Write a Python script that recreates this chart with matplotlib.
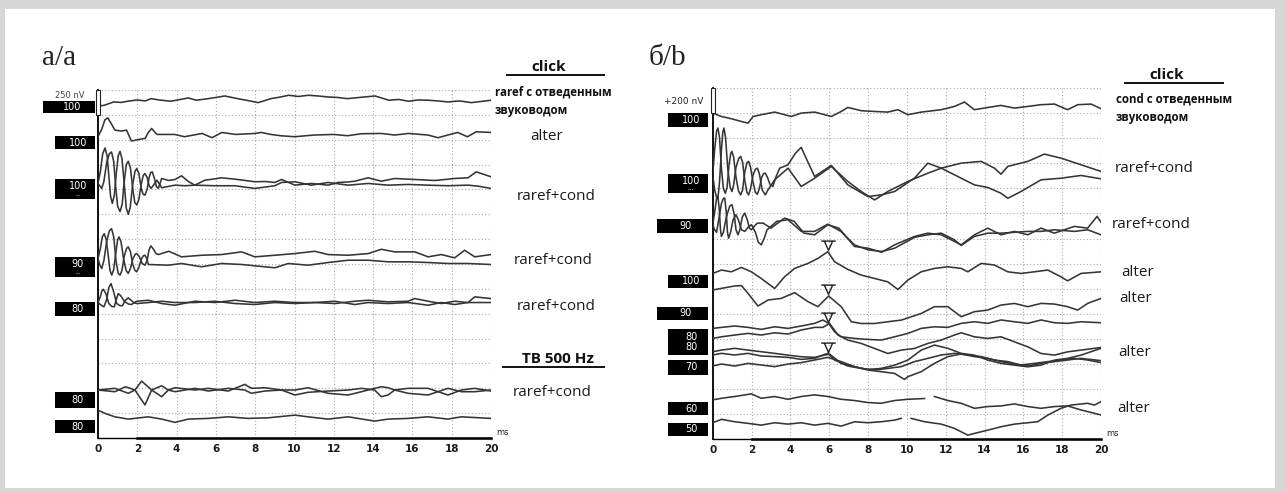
import numpy as np
import matplotlib
matplotlib.use("Agg")
import matplotlib.pyplot as plt
from matplotlib.patches import Rectangle
from matplotlib.path import Path
from matplotlib.transforms import offset_copy

nan = np.nan

# ---------------- panel a/a (click + TB 500 Hz), amplitudes in nV, 250 nV per division
a1_t = [0, 0.3, 0.8, 1.2, 1.5, 2.0, 2.4, 2.7, 3.1, 3.7, 4.2, 4.6, 5.0, 5.5, 6.0, 6.45, 7.1, 7.6, 8.15, 8.8,
        9.3, 9.7, 10.2, 10.7, 11.2, 11.7, 12.2, 12.7, 13.3, 14.1, 14.8, 15.3, 15.8, 16.3, 16.8, 17.3, 17.8,
        18.4, 19.0, 19.5, 20]
a1_nv = [0, 5, 40, 35, 47, 60, 50, 73, 60, 47, 65, 80, 57, 70, 85, 100, 73, 55, 33, 73,
         90, 107, 95, 107, 100, 90, 85, 73, 85, 100, 57, 65, 47, 60, 57, 50, 40,
         50, 33, 45, 57]

a2_t = [0, 0.2, 0.35, 0.5, 0.65, 0.86, 1.2, 1.45, 1.7, 2.2, 2.4, 2.55, 2.73, 3.0,
        3.9, 4.4, 5.3, 5.8, 6.3, 7.0, 8.0, 8.3, 8.8, 9.3, 10.0, 11.0, 12.0, 12.7, 13.4, 14.4, 15.1, 15.8,
        16.8, 17.3, 17.8, 18.3, 18.8, 19.25, 20]
a2_nv = [0, 80, 170, 190, 140, 67, 57, 67, -43, -23, -17, 40, 83, 23,
         23, 0, 33, -10, 43, 23, 33, 43, 23, 10, 0, 17, 23, 10, 30, 33, 17, 33,
         17, -10, 17, 43, 0, 50, 43]

a3a_t = [0, 0.12, 0.24, 0.36, 0.47, 0.55, 0.64, 0.73, 0.83, 0.93, 1.03, 1.12, 1.22, 1.33, 1.44, 1.54, 1.64,
         1.76, 1.88, 1.97, 2.08, 2.2, 2.3, 2.39, 2.5, 2.6, 2.68, 2.76, 2.86, 2.97, 3.07,
         3.24, 3.6, 3.92, 4.25, 4.6, 4.93, 5.44, 5.9, 6.29, 6.97, 7.5, 7.98, 8.5, 9.0, 9.34, 10.02, 10.86,
         11.71, 12.22, 12.73, 13.07, 13.75, 14.42, 15.1, 15.78, 16.12, 16.8, 17.14, 17.81, 18.15, 18.83,
         19.25, 20]
a3a_nv = [0, 120, 300, 357, 270, 80, -130, -200, -120, 100, 280, 323, 250, 10, -250, -310, -240,
          -20, 120, 150, 100, -50, -110, -117, -60, 60, 110, 117, 60, -30, -50,
          50, 30, 40, 77, 20, -17, 33, 45, 57, 43, 30, 17, 20, 10, 40, -17, 0,
          -17, 10, 15, 23, 57, 23, 50, 43, 40, 33, 30, 43, 50, 57,
          117, 67]
a3b_t = [0, 0.19, 0.3, 0.45, 0.58, 0.69, 0.8, 0.9, 1.0, 1.12, 1.23, 1.33, 1.44, 1.54, 1.65, 1.76, 1.87,
         1.97, 2.08, 2.2, 2.3, 2.39, 2.5, 2.6, 2.7, 2.85, 3.0,
         3.24, 3.92, 4.42, 4.93, 5.95, 6.97, 7.98, 9.0, 9.34, 10.02, 10.86, 11.71, 12.73, 13.75, 14.76,
         15.78, 16.8, 17.81, 18.83, 19.34, 20]
a3b_nv = [0, -50, 20, 220, 300, 317, 220, -30, -230, -283, -210, 10, 190, 223, 160, -40, -190,
          -217, -160, -10, 80, 100, 60, -20, -50, -10, 33,
          -43, -17, -23, -17, -23, -23, -50, -23, 10, 17, -17, 10, -17, 0, -17,
          -10, -17, -23, -17, -27, -50]

a4a_t = [0, 0.12, 0.22, 0.32, 0.42, 0.52, 0.61, 0.7, 0.8, 0.9, 1.0, 1.07, 1.17, 1.3, 1.43, 1.54, 1.65,
         1.78, 1.9, 1.97, 2.1, 2.25, 2.39, 2.5, 2.6, 2.69, 2.8, 2.95, 3.07,
         3.6, 4.25, 5.27, 6.29, 7.31, 7.98, 9.0, 10.02, 11.03, 11.71, 12.73, 13.75, 14.42, 15.1, 16.12,
         16.8, 17.47, 18.15, 18.66, 19.17, 20]
a4a_nv = [0, 100, 220, 250, 190, 30, -120, -167, -110, 50, 190, 217, 170, 0, -120, -150, -100,
          0, 45, 50, 20, -50, -67, -20, 90, 127, 100, 50, 40,
          73, 17, 33, 40, 67, 17, 33, 50, 73, 40, 33, 50, 93, 67, 67,
          17, 40, 7, 83, 17, 40]
a4b_t = [0, 0.1, 0.19, 0.3, 0.45, 0.58, 0.69, 0.8, 0.92, 1.03, 1.12, 1.22, 1.33, 1.45, 1.54, 1.65, 1.77,
         1.88, 1.97, 2.08, 2.22, 2.32, 2.39, 2.48, 2.56,
         3.58, 4.25, 5.27, 6.29, 7.31, 7.98, 9.0, 9.68, 10.69, 11.71, 12.73, 13.75, 14.76, 15.78, 16.8,
         17.81, 18.83, 20]
a4b_nv = [0, -70, -100, -20, 180, 280, 300, 220, -30, -150, -167, -120, 20, 100, 117, 70, -60,
          -120, -133, -90, 0, 30, 33, 0, -60,
          -67, -50, -83, -50, -60, -73, -93, -50, -67, -40, -17, -17, -33, -33, -40,
          -50, -50, -60]

a5a_t = [0, 0.12, 0.2, 0.27, 0.4, 0.55, 0.7, 0.83, 0.93, 1.03, 1.15, 1.35, 1.55, 1.71, 1.85, 1.97,
         2.56, 3.24, 3.92, 4.93, 5.95, 6.97, 7.98, 9.0, 10.02, 11.03, 12.05, 13.07, 13.75, 14.76, 15.78,
         16.12, 16.8, 17.47, 18.15, 18.83, 19.17, 20]
a5a_nv = [0, 60, 120, 133, 90, -10, -40, -43, 30, 90, 70, 10, -15, -20, 0, 13,
          23, -10, -27, 13, 0, 23, 0, 13, 0, 0, -10, 13, 23, 7, 13,
          40, 13, -10, 13, 0, 57, 40]
a5b_t = [0, 0.15, 0.3, 0.44, 0.55, 0.66, 0.78, 0.95, 1.1, 1.24, 1.38, 1.54, 1.7, 1.85, 2.0,
         2.56, 3.24, 3.92, 4.93, 5.95, 6.97, 7.98, 9.0, 10.02, 11.03, 12.05, 13.07, 13.75, 14.76, 15.78,
         16.8, 17.47, 18.15, 18.83, 20]
a5b_nv = [0, -25, -43, 30, 150, 190, 120, -10, -30, -33, 20, 47, 20, -5, -10,
          0, 13, 0, 0, 13, -10, -20, 0, -10, 0, 13, -20, 0, -10, 0,
          -27, 0, -20, 0, 0]

a6a_t = [0, 0.86, 1.54, 1.88, 2.22, 2.73, 3.24, 3.58, 3.92, 4.93, 5.61, 6.63, 7.47, 7.81, 8.49, 9.34, 10.02,
         10.69, 11.71, 12.73, 13.41, 14.08, 14.42, 14.76, 15.1, 15.78, 16.8, 17.81, 18.49, 19.17, 20]
a6a_nv = [0, 17, -33, 0, 90, 0, -67, 0, 23, 0, 17, -10, 57, 17, 23, 0, -50,
          -23, -10, 0, 17, 0, -67, -50, 0, 17, 17, -50, 0, 17, -10]
a6b_t = [0, 0.86, 1.4, 1.88, 2.39, 2.73, 3.24, 3.58, 3.92, 4.93, 5.61, 6.63, 7.47, 7.81, 8.49, 9.34, 10.02,
         10.69, 11.71, 12.73, 13.41, 14.08, 14.42, 14.76, 15.1, 15.78, 16.8, 17.81, 18.49, 19.17, 20]
a6b_nv = [0, -17, 33, 0, -150, 0, 43, 0, -17, 17, -10, 17, 0, -33, -10, 0, 0,
          23, -33, -50, -17, 17, 33, 23, 0, -33, -50, 17, -17, -17, 0]

a7_t = [0, 0.36, 0.86, 1.54, 2.56, 3.24, 3.92, 4.59, 5.61, 6.63, 7.64, 8.66, 10.02, 10.69, 11.71, 12.73,
        14.08, 14.76, 15.78, 16.8, 17.81, 18.49, 20]
a7_nv = [0, -33, -67, -90, -67, -90, -123, -90, -83, -67, -83, -77, -50, -67, -90, -67,
         -110, -90, -83, -67, -90, -67, -83]

# baseline of each trace, in grid divisions above the time axis
traces_a = [
    (a1_t, a1_nv, 13.36), (a2_t, a2_nv, 12.12),
    (a3a_t, a3a_nv, 10.24), (a3b_t, a3b_nv, 10.24),
    (a4a_t, a4a_nv, 7.22), (a4b_t, a4b_nv, 7.22),
    (a5a_t, a5a_nv, 5.45), (a5b_t, a5b_nv, 5.45),
    (a6a_t, a6a_nv, 1.93), (a6b_t, a6b_nv, 1.93),
    (a7_t, a7_nv, 1.12),
]

# ---------------- panel б/b (click), amplitudes in nV, 200 nV per division
b1_t = [0, 0.45, 0.96, 1.48, 1.82, 2.08, 2.5, 3.19, 4.05, 4.56, 5.25, 6.11, 6.62, 6.96, 7.65, 8.34, 9.02,
        9.54, 10.05, 10.74, 11.77, 12.45, 12.97, 13.48, 14.17, 14.85, 15.54, 16.23, 16.91, 17.6, 18.28,
        18.8, 19.49, 20]
b1_nv = [0, -27, -45, -67, -80, -27, -13, 8, -27, 0, 8, -27, 13, 45, 19, 13, 8,
         27, -13, 8, 27, 53, 88, 27, 45, 61, 40, 53, 67, 72, 27,
         67, 72, 35]

b2a_t = [0, 0.1, 0.2, 0.27, 0.35, 0.45, 0.55, 0.65, 0.74, 0.84, 0.93, 0.99, 1.08, 1.2, 1.33, 1.44, 1.54,
         1.65, 1.76, 1.85, 1.95, 2.08, 2.2, 2.3, 2.4, 2.52, 2.62, 2.71, 2.82, 2.96, 3.1, 3.25, 3.45,
         3.88, 4.25, 4.56, 4.85, 5.25, 6.11, 6.96, 7.99, 8.68, 9.37, 10.39, 11.08, 11.77, 12.8, 13.48,
         14.17, 14.85, 15.2, 15.88, 16.91, 17.94, 18.97, 20]
b2a_nv = [0, 200, 350, 373, 300, 50, -110, -147, -100, 80, 170, 187, 140, -20, -130, -160, -120,
          20, 95, 107, 60, -60, -140, -155, -110, -20, 10, 13, -20, -80, -93, -20, 53,
          80, 170, 219, 120, -13, 75, -80, -173, -160, -133, -27, 93, 53, -27, -80,
          -101, -147, -187, -133, -40, -27, -5, -32]
b2b_t = [0, 0.1, 0.2, 0.27, 0.35, 0.45, 0.52, 0.58, 0.66, 0.78, 0.9, 0.99, 1.08, 1.2, 1.34, 1.44, 1.54,
         1.65, 1.76, 1.85, 1.95, 2.08, 2.2, 2.3, 2.4, 2.55, 2.71, 2.85, 3.19,
         3.88, 4.56, 5.25, 6.11, 6.96, 7.65, 8.34, 9.02, 10.05, 11.08, 11.77, 12.8, 13.83, 14.51, 14.85,
         15.2, 16.23, 17.08, 17.94, 18.97, 20]
b2b_nv = [0, -120, -180, -187, -60, 200, 340, 373, 300, 40, -100, -133, -80, 60, 130, 147, 100,
          -40, -140, -160, -110, 0, 45, 53, 10, -120, -160, -120, -40,
          53, -93, -27, 67, -53, -133, -200, -133, -53, 13, 53, 93, 107, 53, 5,
          67, 107, 165, 133, 80, 27]

b3a_t = [0, 0.12, 0.2, 0.27, 0.34, 0.4, 0.45, 0.55, 0.7, 0.88, 0.99, 1.1, 1.2, 1.3, 1.4, 1.52, 1.65,
         1.78, 1.9, 2.0, 2.15, 2.3,
         2.6, 3.0, 3.7, 4.2, 4.7, 5.25, 5.93, 6.5, 7.3, 8.0, 8.7, 9.37, 10.4, 11.08, 11.77, 12.45, 12.8,
         13.48, 14.17, 14.85, 15.54, 16.23, 16.91, 17.6, 18.63, 19.31, 19.8, 20]
b3a_nv = [0, 120, 210, 227, 120, -40, -93, -60, 60, 150, 160, 90, -40, -80, -40, 60, 93,
          40, -30, -40, -10, 13,
          13, -27, 53, 27, -67, -80, 0, -27, -173, -187, -219, -160, -93, -67, -80, -133, -160,
          -80, -27, -80, -53, -80, -27, -67, -13, -27, 67, 20]
b3b_t = [0, 0.1, 0.2, 0.32, 0.45, 0.55, 0.62, 0.7, 0.76, 0.82, 0.92, 1.05, 1.2, 1.32, 1.48, 1.65, 1.82,
         2.0, 2.2, 2.35, 2.5, 2.65, 2.8,
         3.3, 3.88, 4.56, 5.25, 5.93, 6.6, 7.3, 8.0, 8.7, 9.37, 10.4, 11.08, 11.77, 12.45, 12.8, 13.48,
         14.17, 14.85, 15.54, 16.23, 16.91, 17.6, 18.63, 19.31, 20]
b3b_nv = [0, -40, -60, 50, 170, 210, 213, 100, -60, -107, -60, 40, 80, 40, -40, -53, -20,
          0, -60, -140, -160, -110, -40,
          27, 40, -53, -53, 5, -53, -160, -200, -213, -187, -100, -80, -67, -120, -165, -93,
          -67, -67, -60, -53, -53, -40, -53, -40, -80]

b4_t = [0, 0.45, 0.96, 1.48, 1.99, 2.5, 3.19, 3.7, 4.22, 4.91, 5.42, 5.93, 6.28, 6.96, 7.65, 8.34, 9.02,
        9.54, 10.05, 10.74, 11.42, 12.11, 12.8, 13.14, 13.83, 14.51, 15.2, 15.88, 16.57, 17.26, 17.94,
        18.28, 18.97, 20]
b4_nv = [0, 27, 13, 48, 13, -40, -120, -27, 40, 80, 120, 173, 93, 32, -13, -40, -67,
         -128, -53, 13, 40, 53, 40, 13, 80, 67, 13, 0, 13, 27, -27,
         -59, 0, 13]

b5_t = [0, 0.45, 1.13, 1.48, 1.82, 2.33, 2.85, 3.53, 4.22, 4.91, 5.42, 5.97, 6.62, 7.14, 7.65, 8.34, 9.02,
        9.71, 10.74, 11.42, 12.11, 12.8, 13.48, 14.17, 14.85, 15.54, 16.23, 16.91, 17.6, 18.28, 18.8,
        19.31, 20]
b5_nv = [0, 13, 32, 35, -27, -128, -80, -67, -21, -93, -133, -48, -133, -253, -267, -267, -253,
         -240, -187, -133, -133, -213, -173, -160, -120, -107, -133, -107, -112, -133, -160,
         -107, -67]

b6_t = [0, 0.45, 1.13, 1.82, 2.5, 3.19, 3.88, 4.56, 5.25, 5.68, 5.97, 6.28, 6.62, 7.31, 7.99, 8.68, 9.37,
        10.05, 10.74, 11.42, 12.11, 12.8, 13.48, 14.17, 14.85, 15.54, 16.23, 16.91, 17.6, 18.28, 18.97, 20]
b6_nv = [0, 8, 19, 8, -8, 13, 0, 19, 40, 67, 40, -27, -67, -80, -88, -93, -67,
         -40, 0, 13, 8, 40, 53, 40, 67, 53, 40, 67, 45, 40, 53, 45]

b7_t = [0, 0.45, 1.13, 1.82, 2.5, 3.19, 3.88, 4.56, 5.25, 5.68, 6.02, 6.45, 6.96, 7.65, 8.34, 9.02, 9.71,
        10.39, 11.08, 11.77, 12.45, 12.8, 13.48, 14.17, 14.85, 15.54, 16.23, 16.91, 17.6, 18.28, 18.97, 20]
b7_nv = [0, 13, 27, 40, 27, 45, 35, 67, 88, 88, 120, 27, -13, -40, -80, -120, -93,
         -80, -40, -13, 27, 45, 13, 0, 13, -27, -67, -120, -133, -107, -93, -72]

c1_t = [0, 0.45, 1.13, 1.82, 2.5, 3.19, 3.88, 4.56, 5.25, 5.76, 6.02, 6.62, 7.31, 7.99, 8.68, 9.37, 10.05,
        10.74, 11.42, 12.11, 12.8, 13.48, 14.17, 14.85, 15.54, 16.23, 16.91, 17.6, 18.28, 18.97, 20]
c1_nv = [0, 13, 27, 13, 0, -13, -27, -40, -45, -27, -19, -93, -120, -141, -133, -107, -67,
         13, 53, 27, -13, -27, -67, -93, -107, -120, -107, -67, -53, -27, 27]

c2_t = [0, 0.45, 1.13, 1.82, 2.5, 3.19, 3.88, 4.56, 5.25, 5.68, 5.93, 6.28, 6.96, 7.65, 8.34, 9.02, 9.71,
        10.39, 11.08, 11.77, 12.45, 13.14, 13.83, 14.51, 15.2, 15.88, 16.57, 17.26, 17.94, 18.63, 19.31, 20]
c2_nv = [0, 13, 0, 13, -8, -13, -19, -35, -27, 0, 13, -40, -88, -107, -120, -107, -93,
         -53, -27, 0, 13, 0, -13, -40, -53, -80, -67, -53, -40, -27, -40, -61]

c3_t = [0, 0.45, 1.13, 1.82, 2.5, 3.19, 3.88, 4.56, 5.25, 5.93, 6.62, 7.31, 7.99, 8.68, 9.37, 9.88, 10.05,
        10.74, 11.42, 12.11, 12.8, 13.48, 14.17, 14.85, 15.54, 16.23, 16.91, 17.6, 18.28, 18.97, 20]
c3_nv = [0, 16, 0, 21, 8, -5, 16, 27, 48, 69, 35, -5, -32, -45, -59, -107, -85,
         -45, 21, 75, 96, 75, 61, 35, 16, 0, 21, 35, 48, 61, 43]

b11_t = [0, 0.45, 1.13, 1.99, 2.5, 3.19, 3.88, 4.56, 5.25, 5.93, 6.62, 7.31, 7.99, 8.68, 9.37, 10.05, 10.91,
         11.2, 11.42, 12.11, 12.8, 13.48, 14.17, 14.85, 15.54, 16.23, 16.91, 17.6, 18.28, 18.97, 20]
b11_nv = [0, 13, 27, 48, 13, 27, 5, 27, 40, 27, 5, -5, -21, -27, -5, 5, 11,
          nan, 27, -5, -27, -67, -53, -48, -32, -53, -67, -53, -48, -80, -120]

b12_t = [0, 0.45, 1.13, 1.82, 2.5, 3.19, 3.88, 4.56, 5.25, 5.93, 6.62, 7.31, 7.99, 8.68, 9.37, 9.71, 9.95,
         10.22, 10.91, 11.77, 12.45, 13.14, 13.48, 14.17, 14.85, 15.54, 16.23, 16.74, 17.26, 17.94, 18.46,
         19.31, 19.66, 20]
b12_nv = [0, 27, 8, -5, -19, 0, -11, 0, -19, -5, -27, 8, 0, 8, 21, 35, nan,
          35, 8, -11, -45, -99, -85, -59, -32, -11, 0, 8, 61, 115, 141,
          155, 141, 168]

traces_b = [
    (b1_t, b1_nv, 13.0),
    (b2a_t, b2a_nv, 10.54), (b2b_t, b2b_nv, 10.54),
    (b3a_t, b3a_nv, 8.55), (b3b_t, b3b_nv, 8.55),
    (b4_t, b4_nv, 6.61), (b5_t, b5_nv, 5.95),
    (b6_t, b6_nv, 4.42), (b7_t, b7_nv, 4.02),
    (c1_t, c1_nv, 3.49), (c2_t, c2_nv, 3.36), (c3_t, c3_nv, 2.92),
    (b11_t, b11_nv, 1.57), (b12_t, b12_nv, 0.66),
]

# wave V latency marked on the alter traces
wave_v_ms = 5.95
wave_v_traces = [traces_b[5], traces_b[6], traces_b[8], traces_b[10]]

time_ticks = list(range(0, 21, 2))

# stimulus levels (dB) written in the black boxes
levels_a = ["100", "100", "100", "90", "80", "80", "80"]
levels_b = ["100", "100", "90", "100", "90", "80\n80", "70", "60", "50"]

labels_a = ["raref с отведенным\nзвуководом", "alter", "raref+cond", "raref+cond", "raref+cond",
            "TB 500 Hz", "raref+cond"]
labels_b = ["cond с отведенным\nзвуководом", "raref+cond", "raref+cond", "alter", "alter", "alter", "alter"]

# ---------------- figure
W, H = 1286, 492
fig = plt.figure(figsize=(W / 100, H / 100), dpi=100)
fig.patch.set_facecolor("#d6d6d6")

bg = fig.add_axes([0, 0, 1, 1])
bg.set_xlim(0, W)
bg.set_ylim(H, 0)
bg.axis("off")
bg.add_patch(Rectangle((5, 9), 1270, 479, facecolor="white", edgecolor="none", zorder=0))

TRACE = "#353535"


def px_axes(x0, x1, y_top, y_bot):
    ax = fig.add_axes([x0 / W, 1 - y_bot / H, (x1 - x0) / W, (y_bot - y_top) / H])
    ax.set_zorder(2)
    ax.patch.set_alpha(0)
    return ax


def style_axes(ax):
    ax.set_xlim(0, 20)
    ax.set_ylim(0, 14)
    for s in ["top", "right"]:
        ax.spines[s].set_visible(False)
    ax.spines["left"].set_linewidth(1.3)
    ax.spines["bottom"].set_linewidth(1.0)
    ax.set_xticks(time_ticks)
    ax.set_xticklabels([str(t) for t in time_ticks], fontsize=7.5, color="#1a1a1a",
                       family="DejaVu Sans", weight="bold")
    ax.set_yticks(range(0, 15))
    ax.tick_params(axis="y", length=0, labelleft=False)
    ax.tick_params(axis="x", length=0, pad=4)
    ax.grid(True, color="#a9a9a9", linestyle=(0, (1, 2)), linewidth=0.8)
    ax.set_axisbelow(True)
    # heavier part of the time axis
    ax.plot([2, 20], [0, 0], color="black", lw=1.8, clip_on=False, zorder=5)
    # calibration bar at top of the amplitude axis
    ax.add_patch(Rectangle((-0.1, 13), 0.2, 1, facecolor="white", edgecolor="#222222",
                           lw=0.8, clip_on=False, zorder=6))
    ax.text(20.25, 0.12, "ms", fontsize=6, color="#222222", family="DejaVu Sans")


ax_a = px_axes(98, 491, 90, 438)
ax_b = px_axes(712.7, 1101, 88, 439.3)
style_axes(ax_a)
style_axes(ax_b)

for t, v, off in traces_a:
    ax_a.plot(t, off + np.array(v, dtype=float) / 250.0, color=TRACE, lw=1.15, zorder=4,
              solid_joinstyle="round")
for t, v, off in traces_b:
    ax_b.plot(t, off + np.array(v, dtype=float) / 200.0, color=TRACE, lw=1.15, zorder=4,
              solid_joinstyle="round")

# wave V marker: bar on top of an open down-pointing triangle, apex on the peak
vmark = Path([(-1.4, 2.0), (1.4, 2.0), (-0.8, 2.0), (0.0, 0.2), (0.8, 2.0)],
             [Path.MOVETO, Path.LINETO, Path.MOVETO, Path.LINETO, Path.LINETO])
for t, v, off in wave_v_traces:
    y = off + np.interp(wave_v_ms, t, v) / 200.0
    ax_b.plot([wave_v_ms], [y], marker=vmark, markersize=15, markerfacecolor="none",
              markeredgecolor="#222222", markeredgewidth=1.0, zorder=6,
              transform=offset_copy(ax_b.transData, fig=fig, y=1, units="dots"))

# ---------------- level boxes (pixel layout)
boxes_a = [(43, 101, 113), (55, 136, 149), (55, 179, 199), (55, 257, 277),
           (55, 302, 316), (55, 392, 408), (55, 420, 433)]
boxes_b = [(668, 113, 127), (668, 174, 193), (657, 219, 233), (668, 275, 288),
           (657, 307, 320), (668, 329, 355), (668, 360, 375), (668, 402, 415), (668, 423, 436)]

bg.text(70, 95, "250 nV", fontsize=6, color="#444444", ha="center", va="center", zorder=1)
bg.text(684, 102, "+200 nV", fontsize=6.5, color="#222222", ha="center", va="center", zorder=1)


def draw_boxes(boxes, levels, x_right):
    for (x0, y0, y1), lab in zip(boxes, levels):
        bg.add_patch(Rectangle((x0, y0), x_right - x0, y1 - y0, facecolor="black",
                               edgecolor="none", zorder=3))
        tall = (y1 - y0) > 17 and "\n" not in lab
        yc = (y0 + y1) / 2 - (3 if tall else 0)
        xc = (x0 + x_right) / 2 + 3
        bg.text(xc, yc, lab, color="white", fontsize=7, ha="center", va="center",
                linespacing=0.95, zorder=4, family="DejaVu Sans")
        if tall:
            bg.text(xc, y1 - 3, "···", color="#bbbbbb", fontsize=5, ha="center",
                    va="center", zorder=4)


draw_boxes(boxes_a, levels_a, 95)
draw_boxes(boxes_b, levels_b, 708)

# ---------------- panel letters
bg.text(42, 58, "a/a", fontsize=21, family="Liberation Serif", color="#222222", va="center")
bg.text(649, 58, "б/b", fontsize=21, family="Liberation Serif", color="#222222", va="center")

# ---------------- right-hand labels
OS = ["Open Sans", "DejaVu Sans"]


def heading(xc, y, x0, x1, text):
    bg.text(xc, y, text, fontsize=11, weight="bold", family=OS, color="#111111",
            ha="center", va="center")
    bg.plot([x0, x1], [y + 7.5, y + 7.5], color="#111111", lw=1.4)


heading(549, 67, 507, 604, "click")
heading(558, 359, 503, 604, "TB 500 Hz")
heading(1167, 75, 1125, 1223, "click")

pos_a = [(495, 101), (530, 137), (517, 196), (514, 261), (517, 306), None, (513, 392)]
for p, lab in zip(pos_a, labels_a):
    if p is None:
        continue
    if "\n" in lab:
        bg.text(p[0], p[1], lab, fontsize=8.3, weight="bold", family=OS, color="#111111",
                va="center", linespacing=1.55)
    else:
        bg.text(p[0], p[1], lab, fontsize=11, family=OS, color="#1a1a1a", va="center")

pos_b = [(1116, 108), (1115, 168), (1112, 225), (1121, 272), (1119, 298), (1118, 353), (1117, 408)]
for p, lab in zip(pos_b, labels_b):
    if "\n" in lab:
        bg.text(p[0], p[1], lab, fontsize=8.3, weight="bold", family=OS, color="#111111",
                va="center", linespacing=1.55)
    else:
        bg.text(p[0], p[1], lab, fontsize=11, family=OS, color="#1a1a1a", va="center")

fig.savefig("out.png", dpi=100, facecolor=fig.get_facecolor())
